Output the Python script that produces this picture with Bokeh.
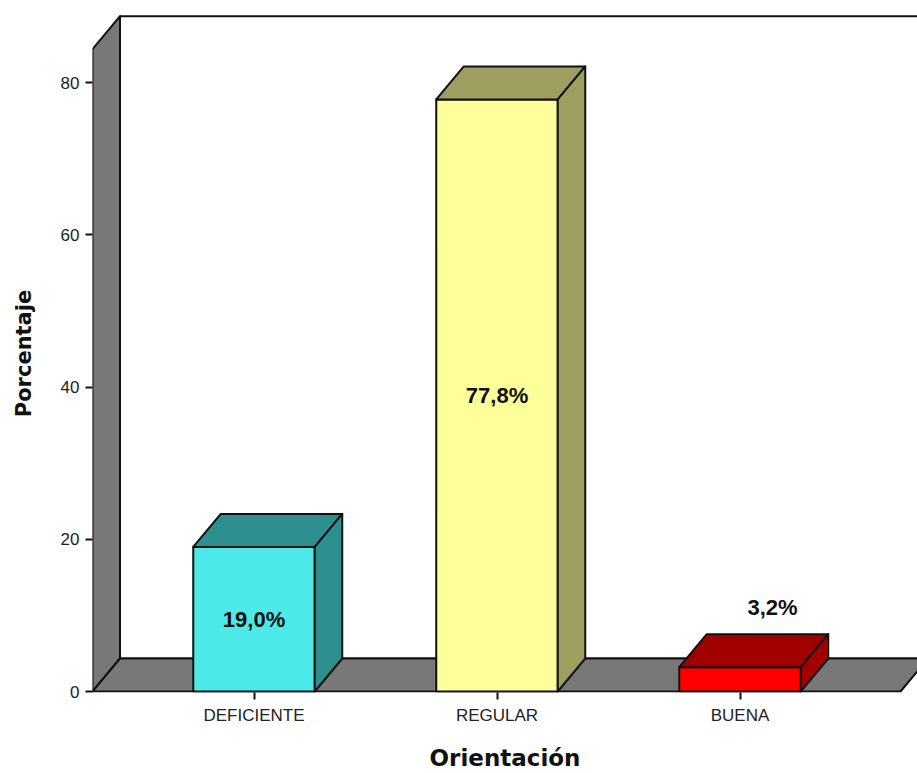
from bokeh.plotting import figure
from bokeh.models import FixedTicker, Range1d
from bokeh.core.properties import value
from bokeh.embed import file_html
from bokeh.resources import INLINE

# --- data -------------------------------------------------------------
categories = ["DEFICIENTE", "REGULAR", "BUENA"]
percentages = [19.0, 77.8, 3.2]
y_ticks = [0, 20, 40, 60, 80]

front_colors = ["#4DE9E9", "#FFFF99", "#FF0000"]
shade_colors = ["#2E8F8F", "#9E9E60", "#A00000"]
WALL_GREY = "#787878"
EDGE = "#111111"

# --- geometry (pixel scale of the frame) ------------------------------
FRAME_L, FRAME_R, FRAME_T, FRAME_B = 92, 917, 14, 692
W, H = 917, 773
PX_PER_Y = 7.61
Y0_PX = 691
PX_PER_X = 243.0
X1_PX = 253.5

x_start = 1 - (X1_PX - FRAME_L) / PX_PER_X
x_end = 1 + (FRAME_R - X1_PX) / PX_PER_X
y_start = -(FRAME_B - Y0_PX) / PX_PER_Y
y_end = (Y0_PX - FRAME_T) / PX_PER_Y

# depth of the 3-D extrusion, expressed in data units
DX = 27.5 / PX_PER_X
DY = 33.0 / PX_PER_Y
HALF = 0.25                       # half of a bar's front width
floor_x0 = x_start
floor_x1 = 1 + (900 - X1_PX) / PX_PER_X
wall_top = 84.4

p = figure(width=W, height=H, output_backend="svg", toolbar_location=None,
           x_range=Range1d(x_start, x_end), y_range=Range1d(y_start, y_end),
           min_border_left=FRAME_L, min_border_right=W - FRAME_R,
           min_border_top=FRAME_T, min_border_bottom=H - FRAME_B)
p.outline_line_color = None
p.xgrid.visible = False
p.ygrid.visible = False
p.background_fill_color = "white"

# back wall
p.patch([floor_x0 + DX, floor_x1 + DX + 0.5, floor_x1 + DX + 0.5, floor_x0 + DX],
        [DY, DY, wall_top + DY, wall_top + DY],
        fill_color="white", line_color=EDGE, line_width=2)
# left wall
p.patch([floor_x0, floor_x0, floor_x0 + DX, floor_x0 + DX],
        [0, wall_top, wall_top + DY, DY],
        fill_color=WALL_GREY, line_color=EDGE, line_width=2, line_join="round")
# floor
p.patch([floor_x0, floor_x1, floor_x1 + DX, floor_x0 + DX],
        [0, 0, DY, DY],
        fill_color=WALL_GREY, line_color=EDGE, line_width=2, line_join="round")

# bars: front face, top face, right side face
for i, (cat, v) in enumerate(zip(categories, percentages)):
    xc = i + 1
    x0, x1 = xc - HALF, xc + HALF
    p.patch([x0, x1, x1, x0], [0, 0, v, v],
            fill_color=front_colors[i], line_color=EDGE, line_width=2, line_join="round")
    p.patch([x0, x1, x1 + DX, x0 + DX], [v, v, v + DY, v + DY],
            fill_color=shade_colors[i], line_color=EDGE, line_width=2, line_join="round")
    p.patch([x1, x1 + DX, x1 + DX, x1], [0, DY, v + DY, v],
            fill_color=shade_colors[i], line_color=EDGE, line_width=2, line_join="round")

# value labels: centred on tall bars, above the short one
label_x, label_y, label_txt = [], [], []
for i, v in enumerate(percentages):
    xc = i + 1
    if v > 10:
        label_x.append(xc)
        label_y.append(v / 2)
    else:
        label_x.append(xc + DX + 5 / PX_PER_X)
        label_y.append(v + DY + 27 / PX_PER_Y)
    label_txt.append(f"{v:.1f}%".replace(".", ","))

p.text(x=label_x, y=label_y, text=label_txt,
       text_font=value("Liberation Sans"), text_font_style="bold",
       text_font_size="22px", text_color="#111111",
       text_align="center", text_baseline="middle")

# axes
p.xaxis.ticker = FixedTicker(ticks=[1, 2, 3])
p.xaxis.major_label_overrides = {i + 1: c for i, c in enumerate(categories)}
p.yaxis.ticker = FixedTicker(ticks=y_ticks)
for ax in (p.xaxis[0], p.yaxis[0]):
    ax.axis_line_color = None
    ax.major_tick_in = 0
    ax.major_tick_out = 7
    ax.major_tick_line_width = 2
    ax.major_tick_line_color = EDGE
    ax.minor_tick_line_color = None
    ax.major_label_text_font = "Liberation Sans"
    ax.major_label_text_font_size = "17px"
    ax.major_label_text_color = "#222222"
    ax.axis_label_text_font = "DejaVu Sans"
    ax.axis_label_text_font_style = "bold"
    ax.axis_label_text_color = "#111111"

p.xaxis.axis_label = "Orientación"
p.xaxis.axis_label_text_font_size = "23px"
p.xaxis.major_label_standoff = 6
p.xaxis.axis_label_standoff = 17

p.yaxis.axis_label = "Porcentaje"
p.yaxis.axis_label_text_font_size = "21px"
p.yaxis.major_label_standoff = 6
p.yaxis.axis_label_standoff = 22

open("out.html", "w").write(file_html(p, INLINE))
